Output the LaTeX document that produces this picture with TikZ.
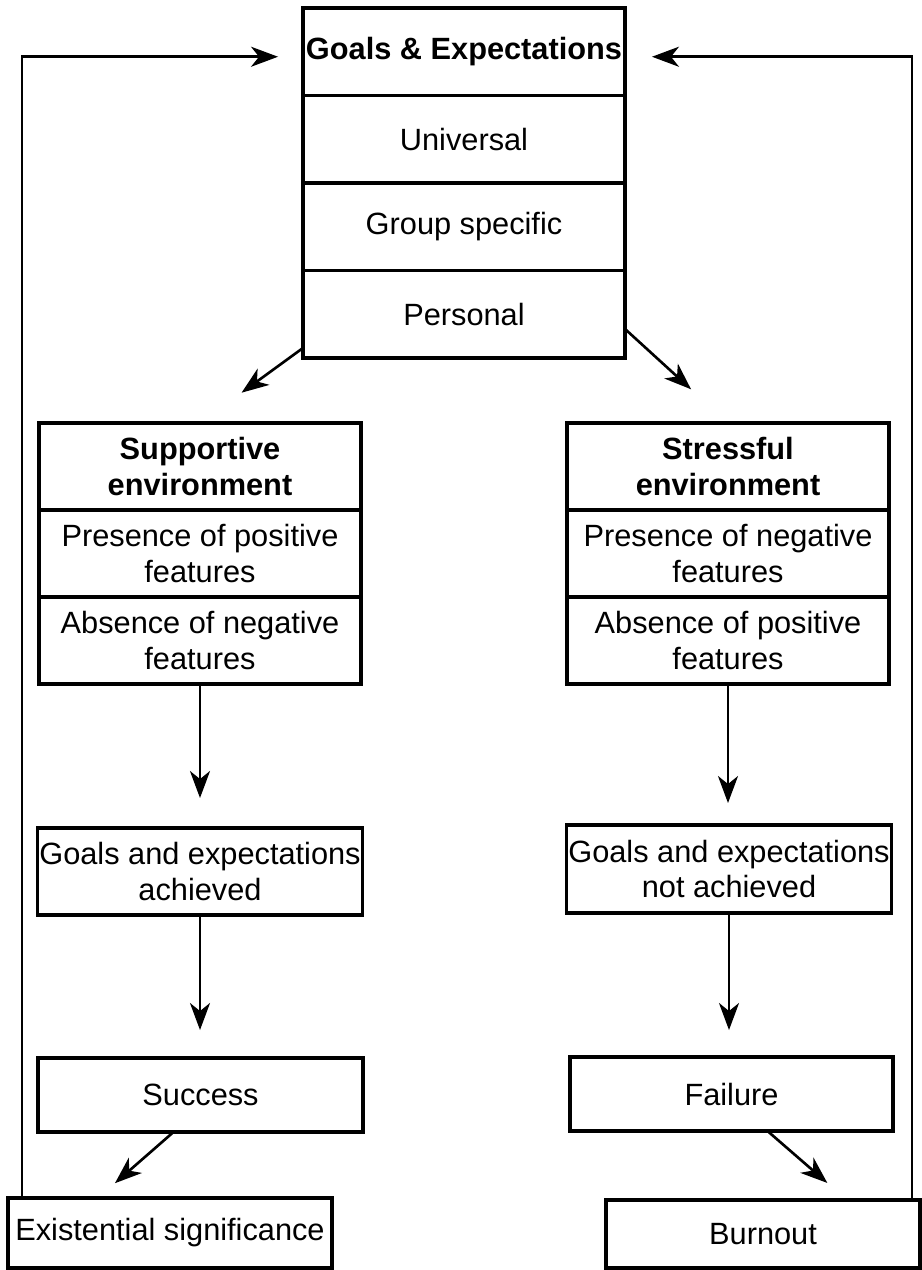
\documentclass[tikz,border=0pt]{standalone}
\usepackage{fontspec}
\setmainfont{Liberation Sans}
\usetikzlibrary{arrows.meta,positioning}

\begin{document}
\begin{tikzpicture}[x=0.02cm,y=-0.02cm,
    >={Stealth[length=5.4mm,width=4mm,inset=1.6mm]},
    cell/.style={draw,line width=2pt,outer sep=0pt,inner sep=1pt,align=center,
      minimum width=6.44cm,minimum height=1.74cm,font=\fontsize{17.5}{20}\selectfont},
    head/.style={cell,font=\fontsize{17.5}{20}\selectfont\bfseries},
    flow/.style={->,line width=1.5pt}]
  \useasboundingbox (0,0) rectangle (922,1270);

  % goals box
  \node[head,minimum height=1.75cm] (ge) at (464,51.75) {Goals \& Expectations};
  \node[cell,minimum height=1.75cm,below=0pt of ge] (univ) {Universal};
  \node[cell,minimum height=1.75cm,below=0pt of univ] (grp) {Group specific};
  \node[cell,minimum height=1.75cm,below=0pt of grp] (pers) {Personal};

  % left branch
  \node[head] (sup) at (200,466.5) {Supportive\\environment};
  \node[cell,below=0pt of sup] (suppos) {Presence of positive\\features};
  \node[cell,below=0pt of suppos] (supneg) {Absence of negative\\features};
  \node[cell,minimum width=6.48cm] (ach) at (200,871.5) {Goals and expectations\\achieved};
  \node[cell,minimum width=6.5cm,minimum height=1.48cm] (succ) at (200.5,1095) {Success};
  \node[cell,minimum width=6.48cm,minimum height=1.4cm] (exist) at (170,1233) {Existential significance};

  % right branch
  \node[head] (str) at (728,466.5) {Stressful\\environment};
  \node[cell,below=0pt of str] (strneg) {Presence of negative\\features};
  \node[cell,below=0pt of strneg] (strpos) {Absence of positive\\features};
  \node[cell,minimum height=1.76cm] (nach) at (729,869) {Goals and expectations\\not achieved};
  \node[cell,minimum width=6.46cm,minimum height=1.48cm] (fail) at (731.5,1094) {Failure};
  \node[cell,minimum width=6.28cm,minimum height=1.36cm] (burn) at (763,1234) {Burnout};

  % arrows
  \draw[flow,shorten >=1.03cm] ([yshift=0.2cm]pers.south west) -- (sup.north);
  \draw[flow,shorten >=1cm] ([yshift=0.58cm]pers.south east) -- (str.north);
  \draw[flow,shorten >=0.6cm] (supneg.south) -- (supneg.south |- ach.north);
  \draw[flow,shorten >=0.44cm] (strpos.south) -- (strpos.south |- nach.north);
  \draw[flow,shorten >=0.56cm] (ach.south) -- (ach.south |- succ.north);
  \draw[flow,shorten >=0.54cm] (nach.south) -- (nach.south |- fail.north);
  \draw[flow,shorten >=0.45cm] ([xshift=-0.54cm]succ.south) -- ([xshift=-1.44cm]exist.north);
  \draw[flow,shorten >=0.52cm] ([xshift=0.72cm]fail.south) -- ([xshift=1.68cm]burn.north);

  % feedback loops
  \draw[flow,shorten >=0.5cm] ([xshift=0.28cm]exist.north west) |- ([yshift=-0.1cm]ge.west);
  \draw[flow,shorten >=0.54cm] ([xshift=-0.16cm]burn.north east) |- ([yshift=-0.1cm]ge.east);
\end{tikzpicture}
\end{document}
